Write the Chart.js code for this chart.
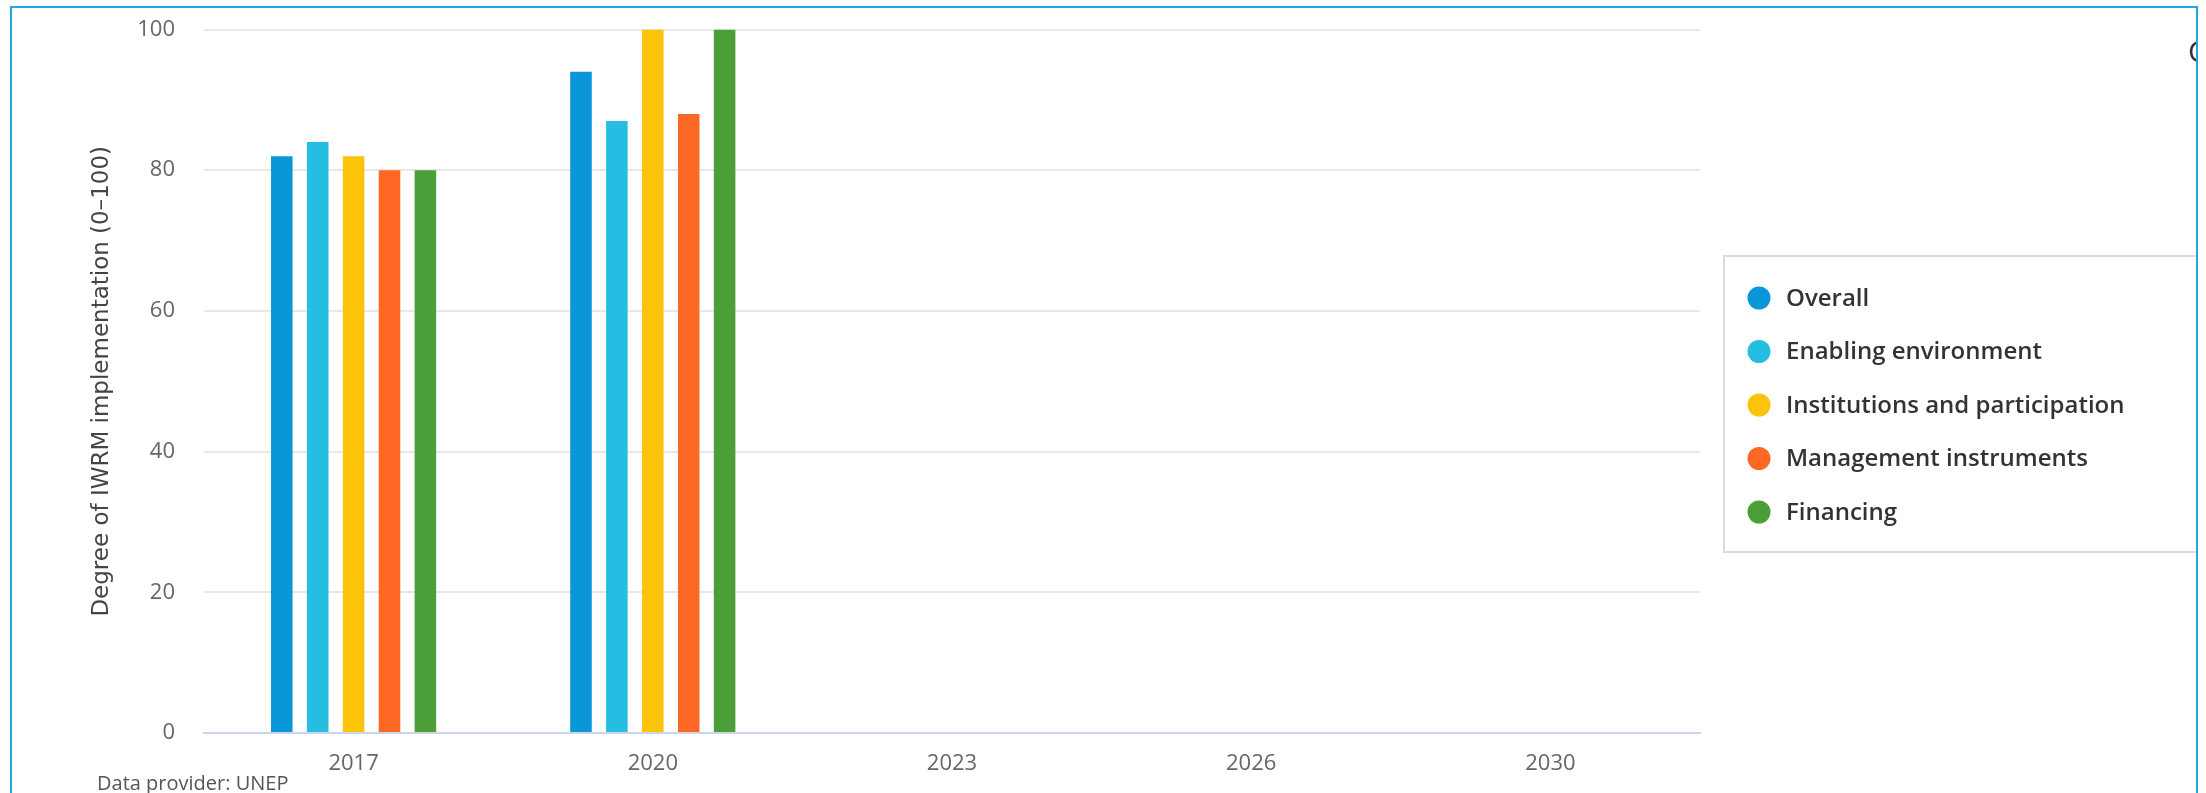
<!DOCTYPE html>
<html>
<head>
<meta charset="utf-8">
<title>Degree of IWRM implementation</title>
<script src="https://cdn.jsdelivr.net/npm/chart.js@4.4.1/dist/chart.umd.min.js"></script>
<style>
  body { margin: 0; background: #fff; width: 2206px; height: 793px; overflow: hidden; position: relative; font-family: "Open Sans", sans-serif; }
  #clip { position: absolute; left: 0; top: 0; width: 2197px; height: 793px; overflow: hidden; }
  #chart { position: absolute; left: 0; top: 0; }
  #provider { position: absolute; left: 97px; top: 773px; font-size: 20px; line-height: 20px; color: #555; white-space: nowrap; }
  #menuIcon { position: absolute; left: 2188px; top: 36px; font-size: 30px; line-height: 30px; color: #333; }
  #frame { position: absolute; left: 10px; top: 6px; width: 2188px; height: 800px; border: 2px solid #1aa9e2; border-bottom: none; box-sizing: border-box; pointer-events: none; }
</style>
</head>
<body>
<div id="clip">
  <canvas id="chart" width="2197" height="820"></canvas>
  <div id="provider">Data provider: UNEP</div>
  <div id="menuIcon">C</div>
</div>
<div id="frame"></div>

<script>
// Years on the x axis (later years have no data yet)
const years = ['2017', '2020', '2023', '2026', '2030'];

// IWRM implementation scores (0-100) per component
const overall = [82, 94, null, null, null];
const enablingEnvironment = [84, 87, null, null, null];
const institutionsParticipation = [82, 100, null, null, null];
const managementInstruments = [80, 88, null, null, null];
const financing = [80, 100, null, null, null];

const seriesNames = ['Overall', 'Enabling environment', 'Institutions and participation', 'Management instruments', 'Financing'];
const seriesColors = ['#0a97d9', '#26bde2', '#fcc30b', '#fd6925', '#4c9f38'];
const yTicks = [0, 20, 40, 60, 80, 100];

const FONT = '"Open Sans", sans-serif';

// Boxed legend with round markers, drawn to the right of the plot
const legendBox = {
    id: 'legendBox',
    afterDraw(chart) {
        const ctx = chart.ctx;
        const left = chart.chartArea.right + 24;
        const top = 256;
        const rowGap = 53.5;
        ctx.save();
        ctx.strokeStyle = '#dcdcdc';
        ctx.lineWidth = 2;
        ctx.strokeRect(left, top, 540, 296);
        ctx.font = '600 24px ' + FONT;
        ctx.textBaseline = 'middle';
        chart.data.datasets.forEach((ds, i) => {
            const y = top + 42 + i * rowGap;
            ctx.fillStyle = ds.backgroundColor;
            ctx.beginPath();
            ctx.arc(left + 35, y, 11.5, 0, Math.PI * 2);
            ctx.fill();
            ctx.fillStyle = '#333';
            ctx.fillText(ds.label, left + 62, y + 1);
        });
        ctx.restore();
    }
};

const seriesData = [overall, enablingEnvironment, institutionsParticipation, managementInstruments, financing];

const ctx = document.getElementById('chart').getContext('2d');
new Chart(ctx, {
    type: 'bar',
    data: {
        labels: years,
        datasets: seriesData.map((values, i) => ({
            label: seriesNames[i],
            data: values,
            backgroundColor: seriesColors[i],
            borderWidth: 0,
            categoryPercentage: 0.6,
            barPercentage: 0.6
        }))
    },
    options: {
        responsive: false,
        animation: false,
        devicePixelRatio: 1,
        layout: { padding: { left: 88, right: 497, top: 29.5, bottom: 25 } },
        plugins: {
            legend: { display: false },
            tooltip: { enabled: false }
        },
        scales: {
            x: {
                grid: { display: false, drawTicks: false },
                border: { display: true, color: '#ccd6eb', width: 2 },
                ticks: { color: '#666', padding: 17.8, font: { family: FONT, size: 22 } }
            },
            y: {
                min: 0,
                max: 100,
                afterBuildTicks: scale => { scale.ticks = yTicks.map(v => ({ value: v })); },
                // fixed axis width; tick padding should not push the plot top down
                afterFit: scale => { scale.width = 116; scale.paddingTop = 13; },
                border: { display: false },
                grid: {
                    drawTicks: false,
                    lineWidth: 2,
                    color: c => (c.tick && c.tick.value === 0) ? '#ccd6eb' : '#e8e8e8'
                },
                ticks: { color: '#666', padding: 29, font: { family: FONT, size: 22 } },
                title: {
                    display: true,
                    text: 'Degree of IWRM implementation (0–100)',
                    color: '#444',
                    padding: { top: 0, bottom: 20 },
                    font: { family: '"DejaVu Sans", sans-serif', size: 23 }
                }
            }
        }
    },
    plugins: [legendBox]
});
</script>
</body>
</html>
